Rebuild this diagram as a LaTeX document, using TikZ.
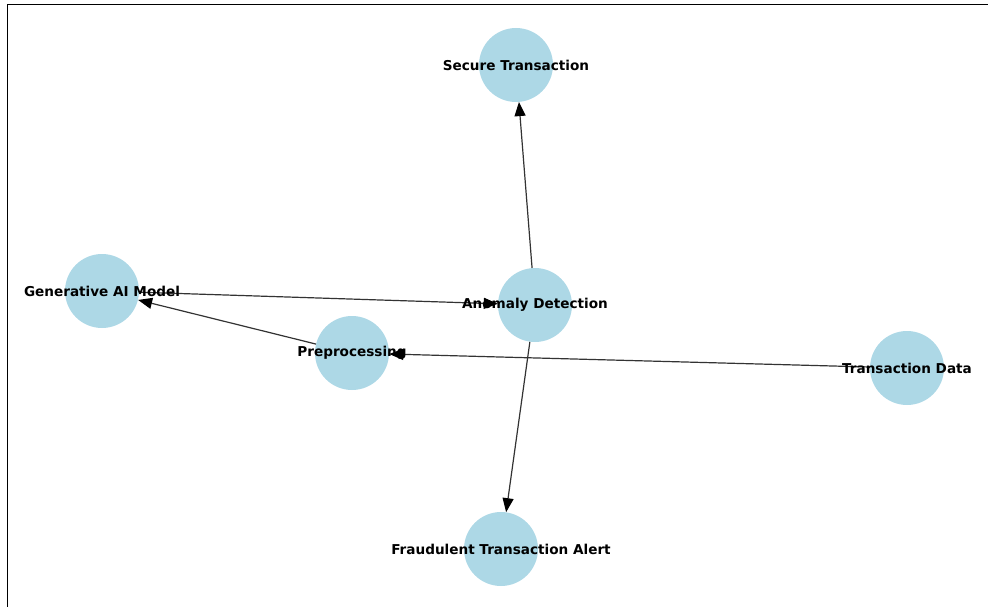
\documentclass[tikz,border=0pt]{standalone}
\usepackage{fontspec}
\setmainfont{DejaVu Sans}
\usetikzlibrary{arrows.meta}

\begin{document}
\begin{tikzpicture}[x=1pt,y=-1pt,
    blob/.style={circle, fill=nodeblue, minimum size=74pt, inner sep=0pt},
    lbl/.style={font=\fontsize{13.6}{15}\selectfont\bfseries, inner sep=0pt},
    flow/.style={-{Triangle[length=14pt,width=11pt,color=black]}, line width=1.2pt, draw=black!80}]
    \definecolor{nodeblue}{HTML}{ADD8E6}
    \useasboundingbox (0,0) rectangle (988,607);
    \draw[line width=1pt] (7,607) -- (7,5) -- (988,5);

    % nodes
    \node[blob] (secure) at (516,65) {};
    \node[blob] (genai) at (102,291) {};
    \node[blob] (anomaly) at (535,305) {};
    \node[blob] (prep) at (352,353) {};
    \node[blob] (data) at (907,368) {};
    \node[blob] (fraud) at (501,549) {};

    % edges
    \draw[flow] (data) -- (prep);
    \draw[flow] (prep) -- (genai);
    \draw[flow] (genai) -- (anomaly);
    \draw[flow] (anomaly) -- (secure);
    \draw[flow] (anomaly) -- (fraud);

    % labels
    \node[lbl] (secureL) at (secure) {Secure Transaction};
    \node[lbl] (genaiL) at (genai) {Generative AI Model};
    \node[lbl] (anomalyL) at (anomaly) {Anomaly Detection};
    \node[lbl] (prepL) at (prep) {Preprocessing};
    \node[lbl] (dataL) at (data) {Transaction Data};
    \node[lbl] (fraudL) at (fraud) {Fraudulent Transaction Alert};
\end{tikzpicture}
\end{document}
